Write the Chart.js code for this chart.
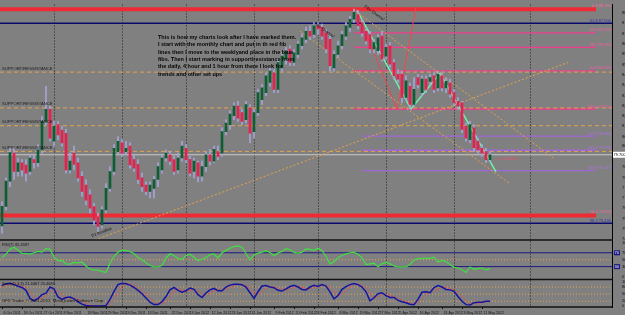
<!DOCTYPE html>
<html>
<head>
<meta charset="utf-8">
<script src="https://cdn.jsdelivr.net/npm/chart.js@4.4.1/dist/chart.umd.min.js"></script>
<style>
  html, body { margin: 0; padding: 0; background: #808080; }
  #wrap { position: relative; width: 625px; height: 315px; }
</style>
</head>
<body>
<div id="wrap"><canvas id="chart" width="625" height="315"></canvas></div>
<script>
// daily candles
const opens = [75.26,76.48,78.06,79.80,78.66,79.20,79.06,78.66,79.40,79.20,
  80.00,81.78,82.53,80.54,81.58,81.24,81.04,78.76,79.80,79.20,
  78.36,77.81,77.21,76.47,75.83,75.33,76.27,77.61,78.66,79.90,
  80.44,79.90,80.24,79.40,79.10,78.26,77.81,77.41,77.61,78.16,
  78.76,79.50,79.70,79.40,78.76,79.50,80.10,79.40,78.66,79.20,
  78.36,78.96,79.70,79.30,79.90,79.80,81.14,81.58,82.13,82.73,
  82.33,81.88,82.63,81.14,82.33,83.13,83.57,84.21,84.81,83.77,
  85.11,85.65,86.29,85.45,85.95,86.49,86.89,87.39,87.19,87.74,
  87.64,87.29,86.89,85.11,85.95,86.49,87.09,87.64,88.14,88.44,
  87.94,87.39,87.19,86.29,86.19,87.09,85.85,86.49,85.45,84.71,
  84.71,83.27,83.97,82.83,84.51,83.57,84.41,84.27,84.61,83.87,
  84.61,83.87,84.17,83.57,83.03,82.93,81.48,80.64,81.38,80.54,
  80.10,79.90,79.40];
const highs = [76.77,78.26,80.10,80.10,79.50,79.40,79.40,79.70,79.70,80.34,
  82.08,83.97,82.73,81.78,81.78,81.48,81.28,79.80,80.24,79.50,
  78.66,78.16,77.51,76.67,76.07,76.47,77.91,78.96,80.34,80.84,
  80.64,80.54,80.44,79.70,79.40,78.56,78.01,78.01,78.36,79.20,
  79.70,80.00,79.90,79.60,79.80,80.54,80.34,79.60,79.50,79.30,
  79.30,79.90,80.04,80.24,80.24,81.38,81.88,82.43,82.93,83.03,
  82.53,83.03,82.83,82.53,83.77,84.07,84.81,85.11,85.01,85.65,
  86.05,86.39,86.49,86.25,86.79,87.24,87.64,87.74,87.94,87.94,
  87.84,87.54,87.09,86.19,86.79,87.39,87.94,88.34,88.78,88.68,
  88.14,87.54,87.39,86.89,87.19,87.39,86.59,86.69,85.65,85.01,
  84.91,84.61,84.17,84.51,84.71,84.61,84.61,84.71,84.81,84.91,
  84.81,84.51,84.41,83.77,83.27,83.03,81.68,81.78,81.58,80.74,
  80.34,80.10,79.90];
const lows = [74.82,76.27,77.71,78.16,78.36,78.36,78.06,78.46,78.86,78.96,
  79.80,81.58,80.54,80.24,80.64,80.24,78.56,78.56,78.76,78.06,
  77.11,76.57,76.07,75.33,74.93,75.13,76.07,77.41,78.46,79.70,
  79.60,79.70,78.86,78.66,77.91,77.41,77.21,77.01,77.01,77.71,
  78.56,79.30,79.06,78.46,78.56,79.30,79.20,78.36,78.26,78.01,
  78.06,78.66,79.06,79.20,79.40,79.60,80.94,81.28,81.88,81.78,
  81.58,81.68,80.44,80.74,82.13,82.83,83.37,83.97,83.57,83.57,
  84.91,85.35,85.25,85.25,85.75,86.29,86.69,86.89,86.99,87.19,
  86.89,86.05,84.91,84.91,85.75,86.29,86.89,87.39,87.94,87.54,
  87.09,86.59,86.05,86.05,85.95,85.55,85.65,85.15,84.41,84.21,
  82.93,83.07,82.55,82.73,83.87,83.37,83.57,84.07,83.57,83.67,
  83.67,83.57,83.27,82.73,82.53,81.08,80.54,80.44,79.90,79.80,
  79.60,79.20,79.30];
const closes = [76.48,78.06,79.84,78.66,79.20,78.76,78.56,79.50,79.20,80.00,
  81.78,82.53,80.74,81.48,80.94,80.44,78.76,79.30,79.10,78.26,
  77.41,76.87,76.37,75.63,75.23,76.27,77.61,78.66,80.10,80.54,
  79.80,80.10,79.06,78.86,78.16,77.71,77.41,77.81,78.16,78.96,
  79.50,79.80,79.30,78.66,79.50,80.24,79.40,78.56,79.30,78.36,
  78.96,79.70,79.30,80.04,79.60,81.14,81.68,82.23,82.73,81.98,
  81.78,82.83,81.04,82.33,83.57,83.87,84.61,84.91,83.77,85.45,
  85.85,86.15,85.45,86.05,86.59,86.99,87.39,87.09,87.74,87.54,
  87.09,86.29,85.25,85.95,86.49,87.19,87.74,88.14,88.58,87.74,
  87.29,86.79,86.29,86.69,86.99,85.65,86.39,85.35,84.61,84.41,
  83.27,84.31,82.83,83.77,84.07,84.41,83.77,84.51,83.77,84.71,
  83.87,84.27,83.47,82.93,82.73,81.28,80.74,81.58,80.14,80.00,
  79.80,79.40,79.70];

// indicators
const rsi = [56,66,80,86,78,68,68,66,70,74,
  72,82,80,58,47,48,38,37,42,41,
  43,31,24,20,20,16,13,40,60,72,
  77,77,73,68,56,50,41,33,29,29,
  33,55,67,62,53,51,62,66,57,47,
  52,56,65,67,55,70,77,83,88,90,
  86,68,49,64,69,72,76,71,62,69,
  74,82,79,71,69,72,81,80,77,83,
  76,60,38,44,56,63,67,70,71,66,
  56,36,38,40,30,38,42,38,32,29,
  29,29,36,49,53,54,54,54,57,43,
  48,45,36,28,26,21,13,29,22,24,
  26,20,25];
const stochMain = [86,94,96,90,83,78,66,32,22,32,
  48,54,80,72,38,28,36,38,30,18,
  8,2,0,0,0,0,2,28,62,90,
  96,94,88,78,66,52,34,16,6,6,
  18,40,68,78,66,58,64,76,70,48,
  36,55,68,74,64,64,80,88,92,92,
  90,80,56,32,60,84,86,80,77,66,
  63,72,82,87,80,70,68,80,87,82,
  90,84,60,30,44,70,82,90,95,90,
  80,60,22,35,52,56,44,36,36,24,
  18,14,8,6,28,58,60,56,78,86,
  80,70,68,62,40,20,6,4,14,16,
  16,20,20];
const stochSignal = [80,88,92,94,90,84,76,58,40,28,
  34,42,60,68,63,46,34,34,35,28,
  19,10,4,1,0,0,1,10,31,60,
  82,93,93,87,77,65,50,34,19,10,
  10,21,42,62,71,67,63,66,70,64,
  51,46,53,66,69,67,70,77,87,91,
  91,87,75,56,50,59,77,84,81,74,
  69,67,72,80,83,79,73,73,78,83,
  86,85,78,58,45,48,65,81,89,92,
  88,77,54,39,38,48,51,45,39,32,
  26,19,13,9,14,31,49,58,65,73,
  81,79,73,67,57,41,22,10,8,11,
  15,17,18];

// time axis labels and the candle each one starts at
const dates = ['6 Oct 2011','18 Oct 2011','27 Oct 2011','8 Nov 2011','18 Nov 2011','29 Nov 2011',
  '9 Dec 2011','13 Dec 2011','22 Dec 2011','3 Jan 2012','12 Jan 2012','23 Jan 2012',
  '31 Jan 2012','9 Feb 2012','20 Feb 2012','28 Feb 2012','8 Mar 2012','19 Mar 2012',
  '27 Mar 2012','5 Apr 2012','16 Apr 2012','24 Apr 2012','3 May 2012','11 May 2012'];
const dateIdx = [0,5,10,15,21,26,31,36,42,47,52,57,62,68,73,78,84,89,94,99,104,110,115,120];
const gridDays = [13,30,46,63,79,96,113,132];

// price scale labels
const priceTicks = [88.550,87.905,87.260,86.615,85.970,85.325,84.680,84.035,83.390,82.760,82.135,
  81.485,80.840,80.225,79.580,78.935,78.290,77.645,77.020,76.375,75.720,75.080,74.450];
const rsiTicks = [100,70,50,30,0];
const stochTicks = [100,80,50,20,0];

// drawn levels
const redLevels = [88.76, 75.92];
const redTexts = ['0.0 88.760', '76.4 75.920'];
const blueLevels = [87.90, 75.43];
const blueTexts = ['61.8 87.900', '38.2 75.430'];
const pinkLevels = [87.29, 86.39, 84.92, 82.55];
const pinkTexts = ['23.6 87.290', '38.2 86.390', '61.8 84.920', '100.0 82.550'];
const purpleLevels = [80.86, 79.98, 78.71];
const purpleTexts = ['127.2 80.860', '141.4 79.980', '161.8 78.710'];
const srLevels = [84.85, 82.62, 81.51, 79.91];
const lastPrice = 79.70;

// trend lines [candle, price]
const trendUp = [[23.25, 74.39], [141.5, 85.45]];
const channelA = [[88.5, 88.63], [138.25, 79.42]];
const channelB = [[74.5, 87.40], [127, 77.89]];
const redSwing = [[88.5, 88.76], [98.75, 82.55], [103.5, 88.88]];
const zigzag = [[88.75, 88.69], [102.25, 82.55], [109.5, 84.77], [123.5, 78.63]];

const FONT = "'Liberation Sans', Arial, sans-serif";
const X_MIN = -0.5, X_MAX = 152.5, FIB_END = 148.5;

function pts(list) {
    return list.map(p => ({x: p[0], y: p[1]}));
}

function hline(y, x0, x1, color, width, dash, axis) {
    return {
        type: 'line',
        data: [{x: x0, y: y}, {x: x1, y: y}],
        borderColor: color,
        borderWidth: width,
        borderDash: dash || [],
        pointRadius: 0,
        yAxisID: axis || 'y',
        order: 5
    };
}

function pathLine(list, color, width, dash) {
    return {
        type: 'line',
        data: pts(list),
        borderColor: color,
        borderWidth: width,
        borderDash: dash || [],
        pointRadius: 0,
        yAxisID: 'y',
        order: 4
    };
}

const bodies = opens.map((o, i) => ({x: i, y: [o, closes[i]]}));
const wicks = opens.map((o, i) => ({x: i, y: [lows[i], highs[i]]}));
const bodyColors = opens.map((o, i) => closes[i] >= o ? '#0d5e35' : '#e8204f');

const datasets = [];
srLevels.forEach(v => datasets.push(hline(v, X_MIN, X_MAX, '#e6a24a', 1, [4, 3])));
datasets.push(hline(lastPrice, X_MIN, X_MAX, '#c8c8c8', 1));
redLevels.forEach(v => datasets.push(hline(v, X_MIN, FIB_END, '#ee2a35', 4)));
blueLevels.forEach(v => datasets.push(hline(v, X_MIN, X_MAX, '#0a0a6e', 1.5)));
pinkLevels.forEach(v => datasets.push(hline(v, 88, FIB_END, '#ef3f8f', 1.3)));
purpleLevels.forEach(v => datasets.push(hline(v, 90, FIB_END, '#a066d8', 1.3)));
datasets.push(pathLine(trendUp, '#e6a24a', 1, [2, 2]));
datasets.push(pathLine(channelA, '#e6a24a', 1, [2, 2]));
datasets.push(pathLine(channelB, '#e6a24a', 1, [2, 2]));
datasets.push(pathLine(redSwing, '#f04848', 1));
datasets.push(pathLine(zigzag, '#70f0a8', 1.5));

// candles
datasets.push({type: 'bar', data: wicks, backgroundColor: '#a4a4d8', barThickness: 1,
    grouped: false, yAxisID: 'y', order: 2});
datasets.push({type: 'bar', data: bodies, backgroundColor: bodyColors, barThickness: 2,
    grouped: false, minBarLength: 1, yAxisID: 'y', order: 1});

// RSI panel
datasets.push(hline(70, X_MIN, X_MAX, '#1a1a80', 1, [], 'yRsi'));
datasets.push(hline(30, X_MIN, X_MAX, '#1a1a80', 1, [], 'yRsi'));
datasets.push(hline(50, X_MIN, X_MAX, '#e6a24a', 1, [1, 2], 'yRsi'));
datasets.push({type: 'line', data: rsi.map((v, i) => ({x: i, y: v})), borderColor: '#3fe03f',
    borderWidth: 1.2, pointRadius: 0, yAxisID: 'yRsi', order: 1});

// Stochastic panel
[80, 50, 20].forEach(v => datasets.push(hline(v, X_MIN, X_MAX, '#e6a24a', 1, [1, 2], 'yStoch')));
datasets.push({type: 'line', data: stochSignal.map((v, i) => ({x: i, y: v})), borderColor: '#ff4040',
    borderWidth: 1, borderDash: [2, 2], pointRadius: 0, yAxisID: 'yStoch', order: 2});
datasets.push({type: 'line', data: stochMain.map((v, i) => ({x: i, y: v})), borderColor: '#1414a0',
    borderWidth: 1.5, pointRadius: 0, yAxisID: 'yStoch', order: 1});

function txt(ctx, s, x, y, size, color, opts) {
    opts = opts || {};
    ctx.save();
    ctx.font = (opts.bold ? 'bold ' : '') + size + 'px ' + FONT;
    ctx.fillStyle = color;
    ctx.textAlign = opts.align || 'left';
    ctx.textBaseline = opts.base || 'alphabetic';
    if (opts.rot) {
        ctx.translate(x, y);
        ctx.rotate(opts.rot);
        ctx.fillText(s, 0, 0);
    } else {
        ctx.fillText(s, x, y);
    }
    ctx.restore();
}

const overlay = {
    id: 'overlay',
    beforeDraw(chart) {
        const ctx = chart.ctx;
        ctx.save();
        ctx.fillStyle = '#808080';
        ctx.fillRect(0, 0, chart.width, chart.height);
        ctx.restore();
    },
    beforeDatasetsDraw(chart) {
        const {ctx, chartArea: a, scales} = chart;
        ctx.save();
        ctx.strokeStyle = '#202020';
        ctx.lineWidth = 1;
        ctx.setLineDash([1, 2]);
        gridDays.forEach(d => {
            const x = Math.round(scales.x.getPixelForValue(d)) + 0.5;
            ctx.beginPath();
            ctx.moveTo(x, a.top);
            ctx.lineTo(x, a.bottom);
            ctx.stroke();
        });
        ctx.restore();
    },
    afterDraw(chart) {
        const {ctx, chartArea: a, scales} = chart;
        const y = scales.y, x = scales.x;

        // panel separators
        ctx.save();
        ctx.strokeStyle = '#111';
        ctx.lineWidth = 1.5;
        [scales.yRsi.top, scales.yStoch.top, a.bottom].forEach(py => {
            ctx.beginPath();
            ctx.moveTo(a.left, py);
            ctx.lineTo(a.right, py);
            ctx.stroke();
        });
        ctx.restore();

        // date labels under the panels, each starting at its candle
        ctx.save();
        ctx.strokeStyle = '#111';
        ctx.lineWidth = 1;
        dateIdx.forEach((d, i) => {
            const px = Math.round(x.getPixelForValue(d)) + 0.5;
            ctx.beginPath();
            ctx.moveTo(px, a.bottom);
            ctx.lineTo(px, a.bottom + 2);
            ctx.stroke();
            txt(ctx, dates[i], px + 1, a.bottom + 6.5, 3.6, '#111');
        });
        ctx.restore();

        // level captions
        const right = x.getPixelForValue(FIB_END) + 15;
        redLevels.forEach((v, i) => txt(ctx, redTexts[i], right, y.getPixelForValue(v) - 2.5, 4, '#ff6a9a', {align: 'right'}));
        blueLevels.forEach((v, i) => txt(ctx, blueTexts[i], right, y.getPixelForValue(v) - 1.5, 4, '#3030a0', {align: 'right'}));
        pinkLevels.forEach((v, i) => txt(ctx, pinkTexts[i], right, y.getPixelForValue(v) - 1.5, 4, '#ff5aa0', {align: 'right'}));
        purpleLevels.forEach((v, i) => txt(ctx, purpleTexts[i], right, y.getPixelForValue(v) - 1.5, 4, '#b070e8', {align: 'right'}));
        srLevels.forEach(v => txt(ctx, 'SUPPORT/RESSISTANCE', a.left + 2, y.getPixelForValue(v) - 2.5, 4.2, '#1a1a1a'));

        // note block
        const note = ['This is how my charts look after I have marked them.',
            'I start with the monthly chart and put in th red fib',
            'lines then I move to the weeklyand place in the blue',
            'fibs. Then I start marking in support/resistance from',
            'the daily, 4 hour and 1 hour from there I look for',
            'trends and other set ups'];
        note.forEach((s, i) => txt(ctx, s, 158, 39 + i * 7.3, 5.5, '#050505', {bold: true}));

        // trend line tags
        txt(ctx, 'Fibo Channel', 314, 24, 4, '#111', {rot: 0.62});
        txt(ctx, 'Fibo Channel', 364, 7, 4, '#111', {rot: 0.62});
        txt(ctx, 'D1 trendline', 92, 237, 4, '#111', {rot: -0.36});
        txt(ctx, '<--13:09:13', x.getPixelForValue(122) + 7, y.getPixelForValue(lastPrice) + 5, 4.2, '#ff4a6a');

        // current price box
        const py = y.getPixelForValue(lastPrice);
        ctx.save();
        ctx.fillStyle = '#ffffff';
        ctx.fillRect(a.right + 1, py - 3, 12, 6);
        ctx.restore();
        txt(ctx, lastPrice.toFixed(3), a.right + 1.5, py + 1.5, 4, '#000');

        // RSI 70/30 boxes
        [70, 30].forEach(v => {
            const p = scales.yRsi.getPixelForValue(v);
            ctx.save();
            ctx.fillStyle = '#1a1a80';
            ctx.fillRect(a.right + 2, p - 2.5, 6, 5);
            ctx.restore();
            txt(ctx, String(v), a.right + 2.5, p + 1.5, 4, '#fff');
        });

        // indicator titles
        txt(ctx, 'RSI(7) 35.2687', a.left + 2, scales.yRsi.top + 6, 4, '#111');
        txt(ctx, 'Stoch(5,3,3) 21.4467 25.4683', a.left + 2, scales.yStoch.top + 6, 4, '#111');
        txt(ctx, 'GFX Trader, \u00a9 2001-2012, MetaQuotes Software Corp.', a.left + 2, a.bottom - 5, 4.2, '#111');
    }
};

function yAxis(weight, min, max, tickList, fmt) {
    return {
        type: 'linear',
        position: 'right',
        stack: 'panels',
        stackWeight: weight,
        min: min,
        max: max,
        grid: {display: false},
        border: {display: true, color: '#000', width: 1},
        afterBuildTicks: s => { s.ticks = tickList.map(v => ({value: v})); },
        afterFit: s => { s.width = 13; },
        ticks: {
            autoSkip: false,
            padding: 2,
            color: '#111',
            font: {size: 4.2, family: FONT},
            callback: fmt
        }
    };
}

new Chart(document.getElementById('chart'), {
    type: 'bar',
    data: {datasets: datasets},
    plugins: [overlay],
    options: {
        responsive: false,
        animation: false,
        events: [],
        layout: {padding: 0},
        plugins: {legend: {display: false}, tooltip: {enabled: false}},
        scales: {
            x: {
                type: 'linear',
                min: X_MIN,
                max: X_MAX,
                offset: false,
                grid: {display: false},
                border: {display: false},
                ticks: {display: false},
                afterFit: s => { s.height = 8; }
            },
            y: yAxis(239, 74.39, 89.06, priceTicks, v => v.toFixed(3)),
            yRsi: yAxis(40, -7, 107, rsiTicks, v => String(v)),
            yStoch: yAxis(28, -4, 112, stochTicks, v => String(v))
        }
    }
});
</script>
</body>
</html>
